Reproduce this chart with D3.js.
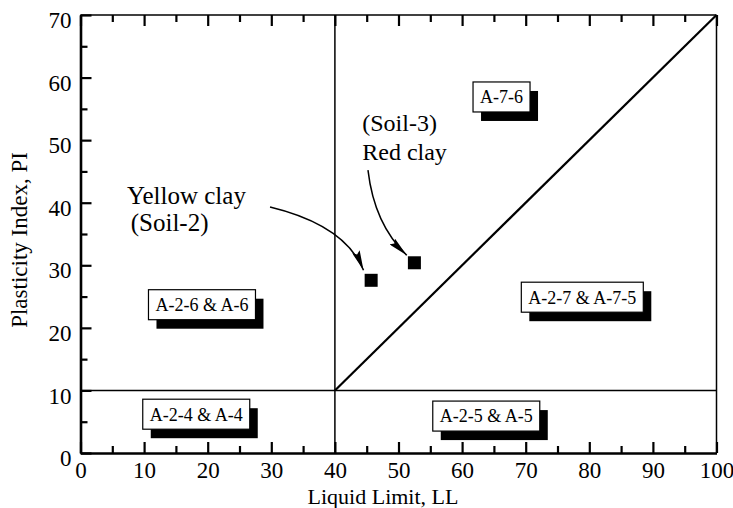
<!DOCTYPE html>
<html lang="en">
<head>
    <meta charset="UTF-8">
    <title>AASHTO plasticity chart</title>
    <script src="https://d3js.org/d3.v7.min.js"></script>
    <style>
        body {
            margin: 0;
            background-color: #ffffff;
        }

        text {
            font-family: "Liberation Serif", "Times New Roman", serif;
            fill: #000;
        }

        .tick text {
            font-size: 23px;
        }

        .zone rect.box {
            fill: #fff;
            stroke: #000;
            stroke-width: 1.2px;
        }

        .zone rect.shadow {
            fill: #000;
        }

        .zone text {
            font-size: 18px;
            text-anchor: middle;
        }

        .note {
            font-size: 25px;
        }

        .note.small {
            font-size: 24px;
        }

        .arrow {
            fill: none;
            stroke: #000;
            stroke-width: 1.5px;
        }
    </style>
</head>
<body>
<script>
    // axis ticks
    const xMajor = [0, 10, 20, 30, 40, 50, 60, 70, 80, 90, 100];
    const xMinor = [5, 15, 25, 35, 45, 55, 65, 75, 85, 95];
    const yMajor = [0, 10, 20, 30, 40, 50, 60, 70];
    const yMinor = [5, 15, 25, 35, 45, 55, 65];

    // zone boundaries (LL, PI)
    const boundaryLL = [40, 100];
    const boundaryPI = [10, 70];

    // zone labels, centred at (LL, PI)
    const zoneNames = ["A-7-6", "A-2-7 & A-7-5", "A-2-6 & A-6", "A-2-4 & A-4", "A-2-5 & A-5"];
    const zoneLL = [66.2, 78.9, 19.1, 18.2, 63.8];
    const zonePI = [56.9, 24.9, 23.7, 6.2, 5.9];

    // soil samples
    const soilNames = ["Yellow clay", "Red clay"];
    const soilLL = [45.7, 52.5];
    const soilPI = [27.6, 30.4];

    // annotation text lines, and arrows (start, control, tip) in LL / PI units
    const noteLines = [["Yellow clay", " (Soil-2)"], ["(Soil-3)", "Red clay"]];
    const noteLL = [[7.3, 7.9], [44.3, 44.3]];
    const notePI = [[39.8, 35.5], [51.5, 46.8]];
    const arrowLL = [[29.8, 41.6, 44.5], [45.2, 46.2, 51.3]];
    const arrowPI = [[39.3, 36.4, 29.2], [45.2, 36.5, 31.6]];

    const width = 733, height = 508;
    const margin = {top: 15, right: 16.5, bottom: 55, left: 80.5};

    const svg = d3.select("body").append("svg")
        .attr("width", width)
        .attr("height", height);

    const x = d3.scaleLinear().domain([0, 100]).range([margin.left, width - margin.right]);
    const y = d3.scaleLinear().domain([0, 70]).range([height - margin.bottom, margin.top]);

    // arrowhead
    svg.append("defs").append("marker")
        .attr("id", "head")
        .attr("viewBox", "0 0 20 8")
        .attr("refX", 20)
        .attr("refY", 4)
        .attr("markerWidth", 20)
        .attr("markerHeight", 8)
        .attr("markerUnits", "userSpaceOnUse")
        .attr("orient", "auto")
        .append("path")
        .attr("d", "M0,0 L20,4 L0,8 L3,4 Z")
        .attr("fill", "#000");

    // frame
    svg.append("line")
        .attr("x1", x(100)).attr("x2", x(100))
        .attr("y1", y(0)).attr("y2", y(70))
        .attr("stroke", "#000").attr("stroke-width", 1.5);
    svg.append("line")
        .attr("x1", x(0)).attr("x2", x(100))
        .attr("y1", y(70)).attr("y2", y(70))
        .attr("stroke", "#000").attr("stroke-width", 1.5);

    // axes
    const xAxisG = svg.append("g")
        .attr("transform", `translate(0,${y(0)})`)
        .call(d3.axisBottom(x).tickValues(xMajor).tickSizeInner(-11).tickSizeOuter(0).tickPadding(9));
    xAxisG.append("g")
        .call(d3.axisBottom(x).tickValues(xMinor).tickSizeInner(-7).tickSizeOuter(0).tickFormat(""));

    const x2AxisG = svg.append("g")
        .attr("transform", `translate(0,${y(70)})`)
        .call(d3.axisTop(x).tickValues(xMajor).tickSizeInner(-11).tickSizeOuter(0).tickFormat(""));
    x2AxisG.append("g")
        .call(d3.axisTop(x).tickValues(xMinor).tickSizeInner(-7).tickSizeOuter(0).tickFormat(""));

    const yAxisG = svg.append("g")
        .attr("transform", `translate(${x(0)},0)`)
        .call(d3.axisLeft(y).tickValues(yMajor).tickSizeInner(-11).tickSizeOuter(0).tickPadding(9));
    yAxisG.append("g")
        .call(d3.axisLeft(y).tickValues(yMinor).tickSizeInner(-7).tickSizeOuter(0).tickFormat(""));

    svg.selectAll(".domain").attr("stroke-width", 2);
    yAxisG.select(".domain").attr("stroke-width", 2.6);
    svg.selectAll(".tick line").attr("stroke-width", 2.2);
    x2AxisG.selectAll(".domain").remove();
    xAxisG.selectAll(".tick text").attr("dy", "0.71em");
    yAxisG.selectAll(".tick text").attr("dy", "0.55em");

    // axis titles
    svg.append("text")
        .attr("x", 383)
        .attr("y", 504)
        .attr("text-anchor", "middle")
        .style("font-size", "22px")
        .text("Liquid Limit, LL");

    svg.append("text")
        .attr("transform", `translate(27,${(y(0) + y(70)) / 2 + 6}) rotate(-90)`)
        .attr("text-anchor", "middle")
        .style("font-size", "23px")
        .text("Plasticity Index, PI");

    // zone boundaries
    svg.append("line")
        .attr("x1", x(boundaryLL[0])).attr("x2", x(boundaryLL[0]))
        .attr("y1", y(0)).attr("y2", y(70))
        .attr("stroke", "#000").attr("stroke-width", 1.5);
    svg.append("line")
        .attr("x1", x(0)).attr("x2", x(100))
        .attr("y1", y(boundaryPI[0])).attr("y2", y(boundaryPI[0]))
        .attr("stroke", "#000").attr("stroke-width", 1.5);
    svg.append("line")
        .attr("x1", x(boundaryLL[0])).attr("x2", x(boundaryLL[1]))
        .attr("y1", y(boundaryPI[0])).attr("y2", y(boundaryPI[1]))
        .attr("stroke", "#000").attr("stroke-width", 2.2);

    // zone labels with drop shadow
    zoneNames.forEach((name, i) => {
        const g = svg.append("g")
            .attr("class", "zone")
            .attr("transform", `translate(${x(zoneLL[i])},${y(zonePI[i])})`);
        const shadow = g.append("rect").attr("class", "shadow");
        const box = g.append("rect").attr("class", "box");
        const t = g.append("text").attr("dy", "0.35em").text(name);
        const w = t.node().getComputedTextLength() + 14;
        const h = 30;
        box.attr("x", -w / 2).attr("y", -h / 2).attr("width", w).attr("height", h);
        shadow.attr("x", -w / 2 + 8).attr("y", -h / 2 + 9).attr("width", w).attr("height", h);
    });

    // soil points
    svg.selectAll(".soil")
        .data(soilNames)
        .enter().append("rect")
        .attr("class", "soil")
        .attr("x", (d, i) => x(soilLL[i]) - 6.5)
        .attr("y", (d, i) => y(soilPI[i]) - 6.5)
        .attr("width", 13)
        .attr("height", 13)
        .attr("fill", "#000");

    // notes and arrows
    noteLines.forEach((lines, i) => {
        lines.forEach((line, j) => {
            svg.append("text")
                .attr("class", i === 1 ? "note small" : "note")
                .attr("x", x(noteLL[i][j]))
                .attr("y", y(notePI[i][j]))
                .text(line);
        });
        const p = arrowLL[i].map((v, k) => [x(v), y(arrowPI[i][k])]);
        svg.append("path")
            .attr("class", "arrow")
            .attr("marker-end", "url(#head)")
            .attr("d", `M${p[0][0]},${p[0][1]} Q${p[1][0]},${p[1][1]} ${p[2][0]},${p[2][1]}`);
    });
</script>
</body>
</html>
